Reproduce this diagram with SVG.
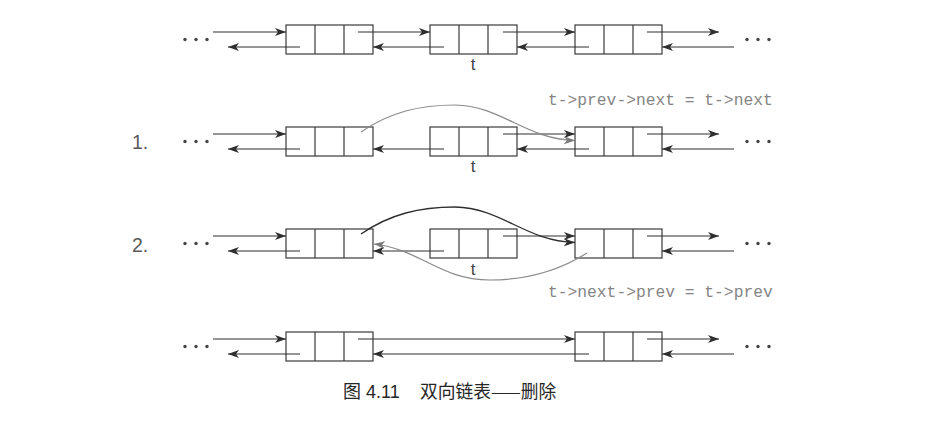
<svg xmlns="http://www.w3.org/2000/svg" width="946" height="434" viewBox="0 0 946 434">
<defs>
<style>
.cell{fill:none;stroke:#3a3a3a;stroke-width:1.2}
.ln{fill:none;stroke:#2e2e2e;stroke-width:1.2;marker-end:url(#ah)}
.gl{fill:none;stroke:#8a8a8a;stroke-width:1.2;marker-end:url(#ahg)}
.dl{fill:none;stroke:#2e2e2e;stroke-width:1.3;marker-end:url(#ah)}
.dot{fill:#444}
.t{font-family:"Liberation Sans",Arial,sans-serif;font-size:17px;fill:#444;text-anchor:middle}
.num{font-family:"Liberation Sans",Arial,sans-serif;font-size:19.5px;fill:#5a5a5a}
.code{font-family:"Liberation Mono","Courier New",monospace;font-size:16.3px;fill:#858585}
.cap{font-family:"Liberation Sans","Noto Sans CJK SC",sans-serif;font-size:18px;fill:#262626}
</style>
<marker id="ah" markerUnits="userSpaceOnUse" markerWidth="12" markerHeight="9" refX="11" refY="4" orient="auto">
<path d="M0,0 L11,4 L0,8 L3,4 z" fill="#2e2e2e"/>
</marker>
<marker id="ahg" markerUnits="userSpaceOnUse" markerWidth="12" markerHeight="9" refX="11" refY="4" orient="auto">
<path d="M0,0 L11,4 L0,8 L3,4 z" fill="#7a7a7a"/>
</marker>
<g id="node">
<rect class="cell" x="0" y="0" width="87" height="29"/>
<line class="cell" x1="29" y1="0" x2="29" y2="29"/>
<line class="cell" x1="58" y1="0" x2="58" y2="29"/>
</g>
<g id="dots">
<circle class="dot" cx="0" cy="0" r="1.7"/>
<circle class="dot" cx="11" cy="0" r="1.7"/>
<circle class="dot" cx="22" cy="0" r="1.7"/>
</g>
</defs>
<rect width="946" height="434" fill="#fff"/>

<!-- Row 0: original list -->
<g id="r0-n1"><use href="#node" x="286" y="25"/></g>
<g id="r0-n2"><use href="#node" x="430" y="25"/><text class="t" x="473" y="70">t</text></g>
<g id="r0-n3"><use href="#node" x="575" y="25"/></g>

<!-- Row 1 -->
<g id="r1-n1"><use href="#node" x="286" y="127"/></g>
<g id="r1-n2"><use href="#node" x="430" y="127"/><text class="t" x="473" y="172">t</text></g>
<g id="r1-n3"><use href="#node" x="575" y="127"/></g>

<!-- Row 2 -->
<g id="r2-n1"><use href="#node" x="286" y="229"/></g>
<g id="r2-n2"><use href="#node" x="430" y="229"/><text class="t" x="473" y="275">t</text></g>
<g id="r2-n3"><use href="#node" x="575" y="229"/></g>

<!-- Row 3 -->
<g id="r3-n1"><use href="#node" x="286" y="332"/></g>
<g id="r3-n3"><use href="#node" x="575" y="332"/></g>

<g id="ellipses">
<use href="#dots" x="185" y="39.5"/><use href="#dots" x="747" y="39.5"/>
<use href="#dots" x="185" y="141.5"/><use href="#dots" x="747" y="141.5"/>
<use href="#dots" x="185" y="243.5"/><use href="#dots" x="747" y="243.5"/>
<use href="#dots" x="185" y="346.5"/><use href="#dots" x="747" y="346.5"/>
</g>

<g id="connectors">
<!-- row 0 -->
<path class="ln" d="M213,32 H286"/>
<path class="ln" d="M300,47 H228"/>
<path class="ln" d="M358,32 H430"/>
<path class="ln" d="M444,47 H373"/>
<path class="ln" d="M503,32 H575"/>
<path class="ln" d="M589,47 H517"/>
<path class="ln" d="M647,32 H719"/>
<path class="ln" d="M734,47 H662"/>
<!-- row 1 -->
<path class="ln" d="M213,134 H286"/>
<path class="ln" d="M300,149 H228"/>
<path class="ln" d="M444,149 H373"/>
<path class="ln" d="M503,134 H575"/>
<path class="ln" d="M589,149 H517"/>
<path class="ln" d="M647,134 H719"/>
<path class="ln" d="M734,149 H662"/>
<path class="gl" d="M361,132 C390,112 420,105 455,105 C502,106 525,139 575,140.5"/>
<!-- row 2 -->
<path class="ln" d="M213,236 H286"/>
<path class="ln" d="M300,251 H228"/>
<path class="ln" d="M444,251 H373"/>
<path class="ln" d="M503,236 H575"/>
<path class="ln" d="M647,236 H719"/>
<path class="ln" d="M734,251 H662"/>
<path class="dl" d="M361,234 C390,214 420,207 455,207 C502,208 525,241 575,242.5"/>
<path class="gl" d="M587,253 C560,270 530,280 490,280 C440,280 420,249 374,244"/>
<!-- row 3 -->
<path class="ln" d="M213,339 H286"/>
<path class="ln" d="M300,354 H228"/>
<path class="ln" d="M358,339 H575"/>
<path class="ln" d="M589,354 H373"/>
<path class="ln" d="M647,339 H719"/>
<path class="ln" d="M734,354 H662"/>
</g>

<g id="labels">
<text class="num" x="132" y="148.5">1.</text>
<text class="num" x="132" y="251.5">2.</text>
<text class="code" x="548" y="105">t-&gt;prev-&gt;next = t-&gt;next</text>
<text class="code" x="548" y="296.5">t-&gt;next-&gt;prev = t-&gt;prev</text>
<text class="cap" y="398"><tspan x="343" font-family="'Noto Sans CJK SC',sans-serif">图</tspan><tspan x="366">4.11</tspan><tspan x="420" font-family="'Noto Sans CJK SC',sans-serif" font-size="17.75px">双向链表——删除</tspan></text>
</g>
</svg>
